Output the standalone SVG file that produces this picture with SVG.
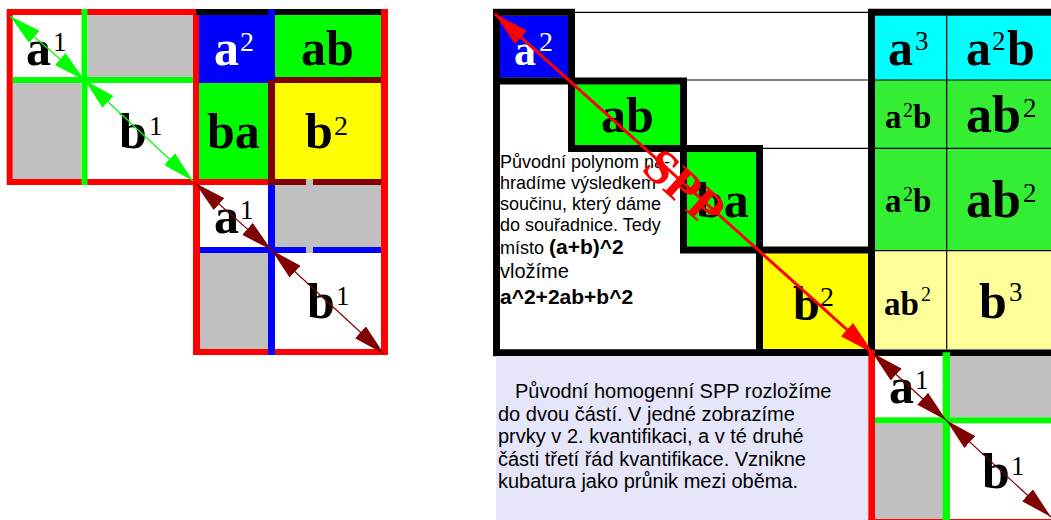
<svg xmlns="http://www.w3.org/2000/svg" width="1051" height="520" viewBox="0 0 1051 520">
<style>
.big{font-family:"Liberation Serif",serif;font-weight:bold;}
.sup{font-family:"Liberation Serif",serif;font-weight:normal;}
.sans{font-family:"Liberation Sans",Arial,sans-serif;}
.thin{stroke:#000;stroke-width:1.2;fill:none;}
.blk{stroke:#000;stroke-width:7;fill:none;}
</style>
<defs>
<marker id="ag" markerUnits="userSpaceOnUse" markerWidth="32" markerHeight="16" viewBox="0 0 32 16" refX="32" refY="8" orient="auto-start-reverse"><path d="M0,0L32,8L0,16z" fill="#00ff00"/></marker>
<marker id="ad" markerUnits="userSpaceOnUse" markerWidth="32" markerHeight="16" viewBox="0 0 32 16" refX="32" refY="8" orient="auto-start-reverse"><path d="M0,0L32,8L0,16z" fill="#800000"/></marker>
<marker id="ar" markerUnits="userSpaceOnUse" markerWidth="36" markerHeight="18" viewBox="0 0 36 18" refX="35" refY="9" orient="auto-start-reverse"><path d="M0,0L36,9L0,18z" fill="#ff0000"/></marker>
</defs>
<rect width="1051" height="520" fill="#fff"/>

<!-- LEFT: square A -->
<g id="sqA">
<rect x="9.7" y="12" width="186.3" height="170" fill="#fff"/>
<rect x="88" y="15" width="105" height="62" fill="#c0c0c0"/>
<rect x="12.7" y="83" width="68.5" height="96" fill="#c0c0c0"/>
<line x1="12.7" y1="80" x2="193" y2="80" stroke="#00ff00" stroke-width="6"/>
<rect x="9.7" y="12" width="186.3" height="170" fill="none" stroke="#ff0000" stroke-width="6"/>
<line x1="84.5" y1="9" x2="84.5" y2="185" stroke="#00ff00" stroke-width="6"/>
<text class="big" x="26" y="65" font-size="50">a</text><text class="sup" x="53" y="51" font-size="27">1</text>
<text class="big" x="119" y="148" font-size="50">b</text><text class="sup" x="149" y="135" font-size="27">1</text>
</g>

<!-- LEFT: square B -->
<g id="sqB">
<rect x="199" y="15" width="69" height="68" fill="#0000ff"/>
<rect x="275" y="15" width="107" height="62" fill="#00ff00"/>
<rect x="199" y="83" width="69" height="96" fill="#00ff00"/>
<rect x="275" y="83" width="107" height="96" fill="#ffff00"/>
<rect x="196" y="9" width="188" height="6" fill="#000"/>
<rect x="268" y="77" width="114" height="6" fill="#800000"/>
<rect x="268" y="80" width="7" height="105" fill="#800000"/>
<rect x="268" y="9" width="7" height="71" fill="#0000ff"/>
<rect x="193" y="179" width="75" height="6" fill="#ff0000"/>
<rect x="268" y="179" width="114" height="6" fill="#800000"/>
<rect x="306" y="179" width="7" height="6" fill="#c0c0c0"/>
<text class="big" x="214" y="65" font-size="50" fill="#fff">a</text><text class="sup" x="240" y="51" font-size="28" fill="#fff">2</text>
<text class="big" x="301" y="65" font-size="50">ab</text>
<text class="big" x="207" y="148" font-size="50">ba</text>
<text class="big" x="305" y="148" font-size="50">b</text><text class="sup" x="334" y="135" font-size="28">2</text>
</g>

<!-- LEFT: square C -->
<g id="sqC">
<rect x="199" y="185" width="183" height="165" fill="#fff"/>
<rect x="275" y="185" width="106" height="62" fill="#c0c0c0"/>
<rect x="200" y="253" width="68" height="96" fill="#c0c0c0"/>
<rect x="193" y="182" width="7" height="173" fill="#ff0000"/>
<rect x="193" y="349" width="195" height="6" fill="#ff0000"/>
<rect x="381" y="9" width="7" height="346" fill="#ff0000"/>
<rect x="200" y="247" width="181" height="6" fill="#0000ff"/>
<rect x="306" y="247" width="7" height="6" fill="#c0c0c0"/>
<rect x="268" y="185" width="7" height="170" fill="#0000ff"/>
<text class="big" x="214" y="233" font-size="50">a</text><text class="sup" x="240" y="219" font-size="27">1</text>
<text class="big" x="307" y="318" font-size="50">b</text><text class="sup" x="336" y="305" font-size="27">1</text>
</g>

<!-- RIGHT: staircase -->
<g id="staircase">
<rect x="500" y="15.7" width="68" height="62" fill="#0000ff"/>
<rect x="575" y="84.3" width="105" height="61.4" fill="#00ff00"/>
<rect x="687" y="152" width="69" height="94.7" fill="#00ff00"/>
<rect x="763" y="253.3" width="105" height="96" fill="#ffff00"/>
<line class="thin" x1="575" y1="12.3" x2="868" y2="12.3"/>
<line class="thin" x1="687" y1="80" x2="868" y2="80"/>
<line class="thin" x1="763" y1="148.3" x2="868" y2="148.3"/>
<rect class="blk" x="496.5" y="12.3" width="75" height="68.7"/>
<rect class="blk" x="571.5" y="81" width="112" height="67.5"/>
<rect class="blk" x="683.5" y="148.5" width="76" height="101.5"/>
<rect class="blk" x="759.5" y="250" width="112" height="102.5"/>
<path class="blk" d="M496.5,9V356M493,352.7H1051"/>
<text class="big" x="514" y="65" font-size="44" fill="#fff">a</text><text class="sup" x="539" y="51" font-size="28" fill="#fff">2</text>
<text class="big" x="601" y="132" font-size="50">ab</text>
<text class="big" x="696" y="217" font-size="50">ba</text>
<text class="big" x="793" y="320" font-size="48">b</text><text class="sup" x="820" y="306" font-size="28">2</text>
</g>

<!-- RIGHT: explanatory text -->
<g id="note1" class="sans">
<text x="500" y="168" font-size="18">Původní polynom na-</text>
<text x="500" y="189" font-size="18">hradíme výsledkem</text>
<text x="500" y="210" font-size="18">součinu, který dáme</text>
<text x="500" y="231" font-size="18">do souřadnice. Tedy</text>
<text x="500" y="254" font-size="18">místo <tspan font-weight="bold" font-size="21">(a+b)^2</tspan></text>
<text x="500" y="278" font-size="20">vložíme</text>
<text x="500" y="304" font-size="21" font-weight="bold">a^2+2ab+b^2</text>
</g>

<!-- RIGHT: cube block -->
<g id="block">
<rect x="875" y="15.7" width="176" height="64.3" fill="#00ffff"/>
<rect x="875" y="80" width="176" height="170.7" fill="#33ee33"/>
<rect x="875" y="250.7" width="176" height="98.6" fill="#ffff99"/>
<line class="thin" x1="875" y1="80" x2="1051" y2="80"/>
<line class="thin" x1="875" y1="148.3" x2="1051" y2="148.3"/>
<line class="thin" x1="875" y1="250.7" x2="1051" y2="250.7"/>
<line class="thin" x1="946.7" y1="15.7" x2="946.7" y2="349.3"/>
<path class="blk" d="M871.5,9V356M868,12.3H1051"/>
<text class="big" x="888" y="65" font-size="50">a</text><text class="sup" x="915" y="50" font-size="27">3</text>
<text class="big" x="966" y="65" font-size="50">a</text><text class="sup" x="992" y="50" font-size="27">2</text><text class="big" x="1007" y="65" font-size="50">b</text>
<text class="big" x="885" y="128" font-size="33">a</text><text class="sup" x="903" y="117" font-size="20">2</text><text class="big" x="913" y="128" font-size="33">b</text>
<text class="big" x="966" y="132" font-size="52">a</text><text class="big" x="992" y="132" font-size="52">b</text><text class="sup" x="1023" y="117" font-size="27">2</text>
<text class="big" x="885" y="212" font-size="33">a</text><text class="sup" x="903" y="201" font-size="20">2</text><text class="big" x="913" y="212" font-size="33">b</text>
<text class="big" x="966" y="217" font-size="52">a</text><text class="big" x="992" y="217" font-size="52">b</text><text class="sup" x="1023" y="202" font-size="27">2</text>
<text class="big" x="884" y="315" font-size="33">a</text><text class="big" x="900.5" y="315" font-size="33">b</text><text class="sup" x="921" y="301" font-size="20">2</text>
<text class="big" x="979" y="318" font-size="50">b</text><text class="sup" x="1009" y="301" font-size="27">3</text>
</g>

<!-- RIGHT: bottom note -->
<g id="note2" class="sans" font-size="20">
<rect x="496" y="356" width="372" height="164" fill="#e6e6fa"/>
<text x="515" y="398">Původní homogenní SPP rozložíme</text>
<text x="498" y="420.5">do dvou částí. V jedné zobrazíme</text>
<text x="498" y="443">prvky v 2. kvantifikaci, a v té druhé</text>
<text x="498" y="465.5">části třetí řád kvantifikace. Vznikne</text>
<text x="498" y="488">kubatura jako průnik mezi oběma.</text>
</g>

<!-- RIGHT: bottom square -->
<g id="sqD">
<rect x="875" y="356" width="176" height="164" fill="#fff"/>
<rect x="950" y="356" width="101" height="61.3" fill="#c0c0c0"/>
<rect x="875" y="423.3" width="68" height="96.7" fill="#c0c0c0"/>
<rect x="868.3" y="350" width="6.7" height="175" fill="#ff0000"/>
<rect x="868" y="519" width="195" height="6" fill="#ff0000"/>
<rect x="875" y="417.3" width="176" height="6" fill="#00ff00"/>
<rect x="942.7" y="352.3" width="7.3" height="172" fill="#00ff00"/>
<text class="big" x="889" y="403" font-size="50">a</text><text class="sup" x="915" y="389" font-size="27">1</text>
<text class="big" x="982" y="488" font-size="50">b</text><text class="sup" x="1011" y="475" font-size="27">1</text>
</g>

<!-- connectors -->
<g id="connectors" fill="none">
<line x1="10" y1="16" x2="84.5" y2="80" stroke="#00ff00" stroke-width="1.2" marker-start="url(#ag)" marker-end="url(#ag)"/>
<line x1="84.5" y1="80" x2="193" y2="181" stroke="#00ff00" stroke-width="1.2" marker-start="url(#ag)" marker-end="url(#ag)"/>
<line x1="195" y1="183" x2="271.5" y2="250" stroke="#800000" stroke-width="1.2" marker-start="url(#ad)" marker-end="url(#ad)"/>
<line x1="271.5" y1="250" x2="384" y2="354" stroke="#800000" stroke-width="1.2" marker-start="url(#ad)" marker-end="url(#ad)"/>
<line x1="872.5" y1="353" x2="946.3" y2="420.3" stroke="#800000" stroke-width="1.2" marker-start="url(#ad)" marker-end="url(#ad)"/>
<line x1="946.3" y1="420.3" x2="1051" y2="517" stroke="#800000" stroke-width="1.2" marker-start="url(#ad)" marker-end="url(#ad)"/>
<line x1="495" y1="14" x2="873" y2="353" stroke="#ff0000" stroke-width="3" marker-start="url(#ar)" marker-end="url(#ar)"/>
<text class="big" transform="translate(684,188) rotate(41.9)" x="0" y="16" text-anchor="middle" font-size="50" fill="#ff0000">SPP</text>
</g>
</svg>
